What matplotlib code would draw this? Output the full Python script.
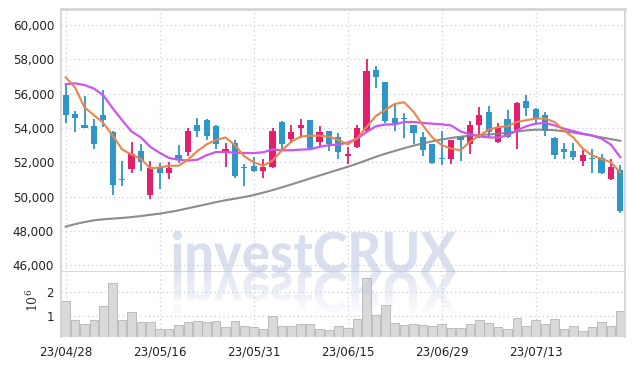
import matplotlib
matplotlib.use("Agg")
import matplotlib.pyplot as plt
from matplotlib.textpath import TextPath
from matplotlib.patches import PathPatch, Rectangle
from matplotlib.font_manager import FontProperties
from matplotlib.transforms import Affine2D

# 日期（交易日）
dates = ["23/04/28", "23/05/02", "23/05/03", "23/05/04", "23/05/08", "23/05/09", "23/05/10",
         "23/05/11", "23/05/12", "23/05/15", "23/05/16", "23/05/17", "23/05/18", "23/05/19",
         "23/05/22", "23/05/23", "23/05/24", "23/05/25", "23/05/26", "23/05/30", "23/05/31",
         "23/06/01", "23/06/02", "23/06/05", "23/06/07", "23/06/08", "23/06/09", "23/06/12",
         "23/06/13", "23/06/14", "23/06/15", "23/06/16", "23/06/19", "23/06/20", "23/06/21",
         "23/06/22", "23/06/23", "23/06/26", "23/06/27", "23/06/28", "23/06/29", "23/06/30",
         "23/07/03", "23/07/04", "23/07/05", "23/07/06", "23/07/07", "23/07/10", "23/07/11",
         "23/07/12", "23/07/13", "23/07/14", "23/07/17", "23/07/18", "23/07/19", "23/07/20",
         "23/07/21", "23/07/24", "23/07/25", "23/07/26"]

opens = [55900, 54800, 54200, 54100, 54750, 53750, 51000, 51600, 52650, 50100,
         51750, 51400, 52400, 52600, 54200, 54450, 54100, 52600, 53100, 51700,
         51800, 51500, 51750, 54350, 53350, 54000, 54450, 53200, 53800, 53450,
         52350, 52900, 53850, 57400, 56700, 54600, 54600, 54200, 53500, 53050,
         52250, 52200, 53450, 53050, 54150, 54950, 53200, 54500, 53800, 55600,
         55100, 54750, 53400, 52750, 52650, 52100, 52250, 52250, 51000, 51550]
highs = [56500, 55000, 55850, 54500, 56200, 53850, 52050, 53200, 53050, 52100,
         51950, 52000, 53000, 54000, 54600, 54550, 54200, 53100, 53300, 51900,
         52300, 52200, 54000, 54400, 54200, 54500, 54450, 54100, 53850, 53700,
         52900, 54200, 58000, 57600, 56700, 55450, 54850, 54200, 53750, 53050,
         53850, 53300, 53550, 54400, 55200, 55300, 54300, 55050, 55500, 55900,
         55150, 54950, 53500, 53100, 53150, 52700, 52750, 52500, 52200, 51850]
lows = [54300, 53750, 54000, 52750, 54050, 50100, 50600, 51350, 51500, 49850,
        50450, 51000, 51950, 52350, 53500, 53300, 52750, 51700, 51100, 50600,
        51450, 51100, 51650, 52750, 53100, 53400, 52800, 52900, 52650, 52200,
        51900, 52850, 53800, 56300, 54300, 53800, 53400, 53050, 52350, 51900,
        51850, 51900, 52100, 52500, 53400, 53450, 53100, 53400, 52800, 54700,
        54150, 53550, 52200, 52200, 52150, 51800, 51350, 51300, 50950, 49050]
closes = [54750, 54600, 54000, 53050, 54450, 50650, 50950, 52500, 52000, 51650,
          51400, 51650, 52150, 53800, 53850, 53550, 53050, 52800, 51200, 51650,
          51500, 51750, 53800, 53050, 53750, 54200, 52850, 53750, 53050, 52600,
          52500, 54000, 57300, 56950, 54400, 54250, 54500, 53700, 52700, 51950,
          52200, 53300, 53300, 54200, 54750, 53750, 54000, 53450, 55450, 55150,
          54500, 53850, 52450, 52600, 52300, 52400, 52200, 51350, 51750, 49150]

# 成交量（百万股）
volumes = [1.65, 0.86, 0.70, 0.86, 1.45, 2.39, 0.86, 1.18, 0.75, 0.77,
           0.49, 0.49, 0.64, 0.77, 0.82, 0.77, 0.82, 0.57, 0.82, 0.61,
           0.57, 0.49, 1.03, 0.61, 0.61, 0.70, 0.70, 0.47, 0.42, 0.58,
           0.52, 0.89, 2.60, 1.07, 1.49, 0.72, 0.64, 0.70, 0.64, 0.60,
           0.70, 0.52, 0.52, 0.70, 0.86, 0.72, 0.57, 0.47, 0.93, 0.61,
           0.86, 0.67, 0.89, 0.49, 0.61, 0.40, 0.54, 0.77, 0.61, 1.24]

# 均线
ma_short = [56950, 56350, 55200, 54750, 54300, 53550, 52750, 52450, 52200, 51650,
            51700, 51800, 51800, 52150, 52650, 53050, 53300, 53450, 53000, 52350,
            52000, 51800, 52100, 52700, 53200, 53500, 53550, 53550, 53500, 53300,
            53050, 53400, 54050, 54700, 55050, 55400, 55500, 54950, 54150, 53450,
            53000, 52800, 52700, 53200, 53550, 53900, 54050, 54100, 54350, 54450,
            54550, 54550, 54350, 53850, 53450, 52800, 52400, 52200, 52000, 51400]
ma_mid = [56550, 56600, 56500, 56300, 55900, 55150, 54450, 53800, 53450, 52900,
          52550, 52250, 52150, 52100, 52150, 52420, 52600, 52600, 52560, 52540,
          52540, 52580, 52750, 52700, 52700, 52740, 52760, 52900, 53000, 53030,
          53150, 53380, 53760, 54100, 54200, 54210, 54350, 54350, 54290, 54250,
          54210, 54150, 53800, 53630, 53510, 53450, 53440, 53570, 53860, 54100,
          54250, 54290, 54150, 53960, 53820, 53670, 53570, 53380, 53030, 52300]
ma_long = [48250, 48400, 48520, 48620, 48680, 48720, 48760, 48810, 48870, 48940,
           49010, 49100, 49200, 49320, 49440, 49560, 49680, 49790, 49880, 49980,
           50090, 50230, 50380, 50540, 50710, 50880, 51060, 51230, 51400, 51570,
           51740, 51920, 52120, 52320, 52500, 52660, 52820, 52970, 53100, 53220,
           53330, 53420, 53490, 53550, 53590, 53620, 53660, 53720, 53790, 53860,
           53900, 53900, 53870, 53810, 53730, 53640, 53550, 53450, 53350, 53250]

price_ticks = [46000, 48000, 50000, 52000, 54000, 56000, 58000, 60000]
label_every = 10

UP = "#e31e6c"
DOWN = "#2f96c8"
GRID = "#cbcddf"
EDGE = "#d4d4d4"
MARK = "#bcc5e2"


def main():
    W, H = 634, 366
    fig = plt.figure(figsize=(W / 100, H / 100), dpi=100)
    ax = fig.add_axes([61 / W, 1 - 272 / H, 564 / W, 263 / H])
    axv = fig.add_axes([61 / W, 1 - 337 / H, 564 / W, 65 / H], sharex=ax)

    x = list(range(len(dates)))

    # 蜡烛图
    colors = [UP if c >= o else DOWN for o, c in zip(opens, closes)]
    ax.vlines(x, lows, highs, colors=colors, lw=1.3, zorder=3)
    bottoms = [min(o, c) for o, c in zip(opens, closes)]
    heights = [max(abs(c - o), 45) for o, c in zip(opens, closes)]
    ax.bar(x, heights, bottom=bottoms, width=0.68, color=colors, zorder=3)

    ax.plot(x, ma_long, color="#808080", lw=1.5, zorder=4, alpha=0.9)
    ax.plot(x, ma_mid, color="#cc55ee", lw=1.6, zorder=4)
    ax.plot(x, ma_short, color="#ee8448", lw=1.5, zorder=4)

    ax.set_ylim(45610, 60930)
    ax.set_xlim(-0.5, len(dates) - 0.5)
    ax.set_yticks(price_ticks)
    ax.set_yticklabels([f"{t:,}" for t in price_ticks])

    # 成交量
    axv.bar(x, volumes, width=0.9, color="#d9d9d9", edgecolor="#b5b5b5", lw=0.6, zorder=2)
    axv.set_ylim(0.14, 2.85)
    axv.set_yticks([1, 2])
    axv.set_yticklabels(["1", "2"])
    fig.text(33 / W, 1 - 300 / H, r"$\mathregular{10^6}$", rotation=90,
             ha="center", va="center", fontsize=9, family="DejaVu Serif", color="#333")

    ticks = x[::label_every]
    axv.set_xticks(ticks)
    axv.set_xticklabels([dates[i] for i in ticks])

    for a in (ax, axv):
        a.grid(True, color=GRID, ls=(0, (1, 2.5)), lw=0.9, zorder=0)
        a.set_axisbelow(True)
        a.tick_params(length=0, labelsize=8.6, colors="#222", pad=5)
        for s in a.spines.values():
            s.set_color(EDGE)
            s.set_linewidth(1.3)
    ax.tick_params(labelbottom=False)
    ax.spines["top"].set_linewidth(2)
    axv.spines["top"].set_visible(False)
    axv.spines["bottom"].set_visible(False)
    axv.tick_params(axis="x", pad=6)

    # 水印及倒影
    tp = TextPath((0, 0), "investCRUX", size=100,
                  prop=FontProperties(family=["Lato", "DejaVu Sans"], weight="black"))
    bb = tp.get_extents()
    x0, x1, top, base = 173, 456, 231, 272
    sx = (x1 - x0) / bb.width
    sy = (base - top) / bb.y1
    tr = (Affine2D().translate(-bb.x0, 0).scale(sx / W, sy / H)
          .translate(x0 / W, 1 - base / H) + fig.transFigure)
    fig.patches.append(PathPatch(tp, transform=tr, facecolor=MARK,
                                 edgecolor="none", alpha=0.55, zorder=5))
    tr2 = (Affine2D().translate(-bb.x0, 0).scale(sx / W, -sy / H)
           .translate(x0 / W, 1 - base / H) + fig.transFigure)
    nb = 9
    for k in range(nb):
        y_top = base + k * 5
        clip = Rectangle((0, 1 - (y_top + 5) / H), 1, 5 / H, transform=fig.transFigure)
        p = PathPatch(tp, transform=tr2, facecolor=MARK, edgecolor="none",
                      alpha=0.42 * (1 - k / nb), zorder=5)
        p.set_clip_path(clip)
        fig.patches.append(p)

    fig.savefig("out.png", dpi=100)


if __name__ == "__main__":
    main()
